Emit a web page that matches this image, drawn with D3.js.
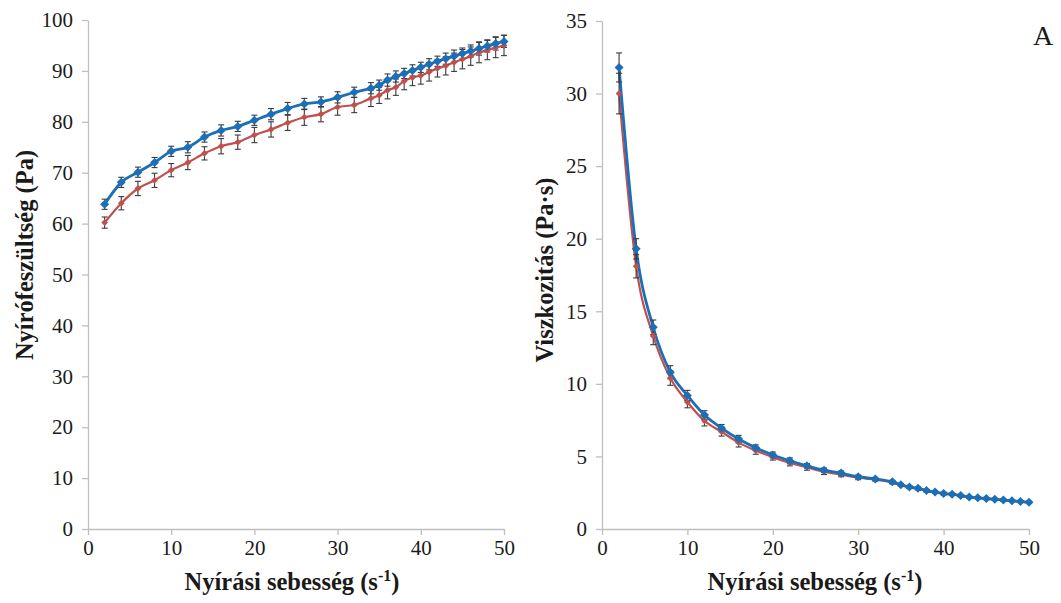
<!DOCTYPE html>
<html>
<head>
<meta charset="utf-8">
<script src="https://cdn.jsdelivr.net/npm/d3@7"></script>
<style>
  html, body { margin: 0; padding: 0; background: #fff; }
  svg { display: block; }
</style>
</head>
<body>
<svg id="chart" width="1061" height="603"></svg>
<script>
// Shear rate steps (s^-1)
const shearRate = [2,4,6,8,10,12,14,16,18,20,22,24,26,28,30,32,34,
  35,36,37,38,39,40,41,42,43,44,45,46,47,48,49,50];

// Shear stress (Pa)
const stressBlue = [63.8,68.1,70.1,72.0,74.2,75.0,77.0,78.3,79.1,80.3,81.5,82.6,83.5,83.9,84.8,85.8,86.6,
  87.2,88.2,88.9,89.5,90.1,90.7,91.3,91.9,92.4,92.9,93.4,93.9,94.4,94.9,95.4,95.8];
const stressRed = [60.2,64.0,66.9,68.5,70.5,72.0,73.8,75.2,76.0,77.4,78.5,79.8,80.9,81.5,82.9,83.3,84.6,
  85.2,86.2,86.8,88.0,88.7,89.1,89.8,90.5,91.0,91.7,92.3,92.9,93.6,94.1,94.6,95.0];
const stressBlueErr = [1.0,1.0,1.0,1.0,1.0,1.1,1.0,1.1,1.0,1.0,1.1,1.2,1.1,1.0,1.1,1.0,1.1,
  1.0,1.2,1.1,1.0,1.1,1.0,1.1,1.0,1.1,1.2,1.1,1.2,1.3,1.2,1.3,1.2];
const stressRedErr = [1.1,1.3,1.4,1.4,1.3,1.4,1.3,1.5,1.4,1.5,1.5,1.5,1.6,1.5,1.6,1.5,1.6,
  1.6,1.7,1.6,1.7,1.6,1.7,1.8,1.7,1.8,1.8,1.9,1.8,2.0,1.9,2.0,2.0];

// Viscosity (Pa·s)
const viscBlue = [31.8,19.3,13.9,10.8,9.2,7.85,6.95,6.2,5.6,5.1,4.7,4.35,4.05,3.85,3.6,3.45,3.25,
  3.05,2.9,2.8,2.65,2.55,2.45,2.4,2.3,2.2,2.15,2.1,2.05,2.0,1.95,1.9,1.85];
const viscRed = [30.0,18.1,13.3,10.4,8.75,7.45,6.7,5.95,5.4,4.95,4.55,4.25,3.95,3.75,3.55,3.4,3.2,
  3.02,2.87,2.77,2.63,2.53,2.43,2.38,2.28,2.18,2.13,2.08,2.03,1.98,1.93,1.88,1.83];
const viscBlueErr = [1.0,0.7,0.5,0.45,0.35,0.3,0.25,0.25,0.2,0.2,0.2,0.15,0.15,0.15,0.1,0.1,0.1,
  0.08,0.08,0.08,0.08,0.08,0.08,0.06,0.06,0.06,0.06,0.06,0.06,0.05,0.05,0.05,0.05];
const viscRedErr = [1.4,0.8,0.6,0.5,0.4,0.35,0.3,0.3,0.25,0.2,0.2,0.2,0.2,0.15,0.15,0.1,0.1,
  0.08,0.08,0.08,0.08,0.08,0.08,0.06,0.06,0.06,0.06,0.06,0.06,0.05,0.05,0.05,0.05];

// Tick values and labels
const xTicks = [0,10,20,30,40,50];
const stressTicks = [0,10,20,30,40,50,60,70,80,90,100];
const viscTicks = [0,5,10,15,20,25,30,35];
const xTitle = "Nyírási sebesség (s";
const stressTitle = "Nyírófeszültség (Pa)";
const viscTitle = "Viszkozitás (Pa·s)";
const panelLetter = "A";

const FONT = "Liberation Serif";
const BLUE = "#1c6fb7";
const RED = "#c0504d";
const AXIS = "#bfbfbf";
const ERR = "#3a3a3a";
const INK = "#1a1a1a";

const svg = d3.select("#chart");

function panel(opts) {
  const g = svg.append("g");
  const x = d3.scaleLinear().domain([0, 50]).range([opts.x0, opts.x1]);
  const y = d3.scaleLinear().domain([0, opts.yMax]).range([opts.y0, opts.y1]);

  // axes
  const xAxis = g.append("g").attr("transform", `translate(0,${opts.y0})`)
    .call(d3.axisBottom(x).tickValues(xTicks).tickSize(6).tickSizeOuter(0).tickPadding(5));
  const yAxis = g.append("g").attr("transform", `translate(${opts.x0},0)`)
    .call(d3.axisLeft(y).tickValues(opts.yTicks).tickSize(6).tickSizeOuter(0).tickPadding(9));
  [xAxis, yAxis].forEach(a => {
    a.attr("font-family", FONT).attr("font-size", 21);
    a.select(".domain").attr("stroke", AXIS).attr("stroke-width", 1.3);
    a.selectAll(".tick line").attr("stroke", AXIS).attr("stroke-width", 1.3);
    a.selectAll(".tick text").attr("fill", INK);
  });

  const line = d3.line().x((d, i) => x(shearRate[i])).y(d => y(d)).curve(d3.curveMonotoneX);

  const series = [
    { v: opts.red, e: opts.redErr, c: RED, w: 2.2, m: 3.4 },
    { v: opts.blue, e: opts.blueErr, c: BLUE, w: 2.8, m: 4.5 }
  ];

  series.forEach(s => {
    g.append("path").datum(s.v).attr("d", line)
      .attr("fill", "none").attr("stroke", s.c).attr("stroke-width", s.w);
  });

  // error bars
  series.forEach(s => {
    const eb = g.append("g").attr("stroke", ERR).attr("stroke-width", 1.1);
    s.v.forEach((v, i) => {
      const cx = x(shearRate[i]);
      const lo = y(v - s.e[i]), hi = y(v + s.e[i]);
      eb.append("line").attr("x1", cx).attr("x2", cx).attr("y1", lo).attr("y2", hi);
      eb.append("line").attr("x1", cx - 3).attr("x2", cx + 3).attr("y1", lo).attr("y2", lo);
      eb.append("line").attr("x1", cx - 3).attr("x2", cx + 3).attr("y1", hi).attr("y2", hi);
    });
  });

  // markers
  series.forEach(s => {
    g.append("g").selectAll("path").data(s.v).join("path")
      .attr("transform", (d, i) => `translate(${x(shearRate[i])},${y(d)})`)
      .attr("d", `M0,${-s.m}L${s.m},0L0,${s.m}L${-s.m},0Z`)
      .attr("fill", s.c);
  });

  // x title with superscript
  const xt = g.append("text").attr("x", opts.xTitleX).attr("y", 590)
    .attr("text-anchor", "middle").attr("font-family", FONT).attr("fill", INK)
    .attr("font-size", 24.5).attr("font-weight", "bold");
  xt.append("tspan").text(xTitle);
  xt.append("tspan").attr("dy", -9).attr("font-size", 16).text("-1");
  xt.append("tspan").attr("dy", 9).text(")");

  g.append("text")
    .attr("transform", `translate(${opts.yTitleX},${opts.yTitleY}) rotate(-90)`)
    .attr("text-anchor", "middle").attr("font-family", FONT).attr("fill", INK)
    .attr("font-size", 24.5).attr("font-weight", "bold")
    .text(opts.yTitle);
}

panel({
  x0: 88, x1: 504, y0: 529, y1: 20, yMax: 100, yTicks: stressTicks,
  blue: stressBlue, red: stressRed, blueErr: stressBlueErr, redErr: stressRedErr,
  xTitleX: 292, yTitle: stressTitle, yTitleX: 33, yTitleY: 255
});

panel({
  x0: 602, x1: 1029, y0: 529, y1: 21, yMax: 35, yTicks: viscTicks,
  blue: viscBlue, red: viscRed, blueErr: viscBlueErr, redErr: viscRedErr,
  xTitleX: 815, yTitle: viscTitle, yTitleX: 553, yTitleY: 270
});

svg.append("text").attr("x", 1043).attr("y", 45).attr("text-anchor", "middle")
  .attr("font-family", FONT).attr("fill", INK)
  .attr("font-size", 28).text(panelLetter);
</script>
</body>
</html>
